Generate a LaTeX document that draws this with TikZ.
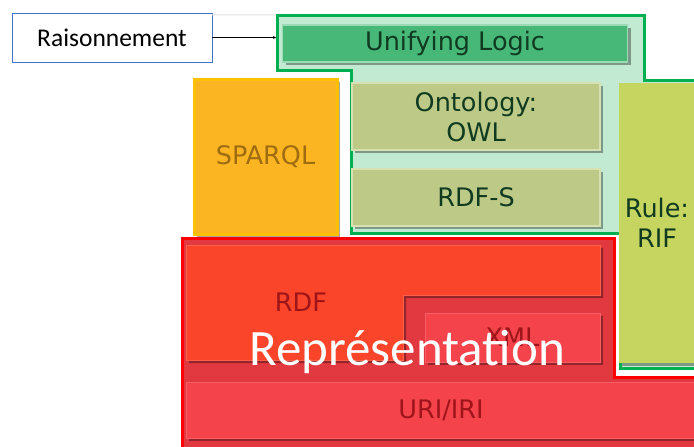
\documentclass[tikz,border=0pt]{standalone}
\usepackage{fontspec}
\setmainfont{Carlito}
\newfontfamily\layerfont{DejaVu Sans}
\usetikzlibrary{positioning, shadows, arrows}

\definecolor{raisblue}{HTML}{4472C4}
\definecolor{greenline}{HTML}{00B050}
\definecolor{mint}{HTML}{C2EAD2}
\definecolor{logicgreen}{HTML}{47B878}
\definecolor{logicedge}{HTML}{9ADBB4}
\definecolor{darkgreen}{HTML}{103B20}
\definecolor{olive}{HTML}{BDC986}
\definecolor{oliveedge}{HTML}{D6E0B0}
\definecolor{rulegreen}{HTML}{C5D55F}
\definecolor{sparqlfill}{HTML}{FBB522}
\definecolor{sparqlline}{HTML}{FFC000}
\definecolor{sparqltext}{HTML}{A06C12}
\definecolor{redline}{HTML}{FF0000}
\definecolor{redfill}{HTML}{E23840}
\definecolor{rdffill}{HTML}{FA452B}
\definecolor{urifill}{HTML}{F4434B}
\definecolor{redtext}{HTML}{9E1418}

\begin{document}
\begin{tikzpicture}[
    x=1pt, y=-1pt,
    layer/.style={rectangle, inner sep=0pt, align=center, font=\layerfont\fontsize{25.5}{30}\selectfont,
        drop shadow={shadow xshift=3pt, shadow yshift=-3pt, opacity=0.35, fill=black}},
    logic/.style={layer, fill=logicgreen, draw=logicedge, line width=1.5pt, text=darkgreen},
    olivebox/.style={layer, fill=olive, draw=oliveedge, line width=1.5pt, text=darkgreen},
    rulebox/.style={layer, fill=rulegreen, text=darkgreen},
    sparqlbox/.style={layer, fill=sparqlfill, draw=sparqlline, line width=3pt, text=sparqltext},
    redbox/.style={layer, fill=urifill, draw=urifill!85!white, line width=1pt, text=redtext},
    arrowline/.style={->, >=stealth, thin, black}
]
    \useasboundingbox (0,0) rectangle (694,447);

    % Reasoning label
    \node[draw=raisblue, rectangle, minimum width=200pt, minimum height=49pt, font=\fontsize{25.5}{30}\selectfont] (raison) at (112,37.5) {Raisonnement};
    \coordinate (logiccorner) at (277,15);
    \draw[black!12, line width=1pt] ([yshift=-2pt]raison.north east) -- (logiccorner);

    % Green (logic) region
    \draw[greenline, line width=3pt, fill=mint] (logiccorner) -- (644,15) -- (644,80) -- (697,80) -- (697,368)
        -- (620,368) -- (620,233) -- (351,233) -- (351,70) -- (277,70) -- cycle;

    \node[logic, minimum width=345pt, minimum height=37pt] (unify) at (455,43.5) {Unifying Logic};
    \node[olivebox, minimum width=248pt, minimum height=67pt] (owl) at (476,116.5) {Ontology:\\OWL};
    \node[olivebox, minimum width=248pt, minimum height=57pt] (rdfs) at (476,197.5) {RDF-S};
    \node[rulebox, minimum width=76pt, minimum height=280pt] (rif) at (657,223) {Rule:\\RIF};

    % Query
    \node[sparqlbox, minimum width=143pt, minimum height=155pt] (sparql) at (265.5,156.5) {SPARQL};

    % Red (representation) region
    \draw[redline, line width=3pt, fill=redfill] (182,238) -- (614,238) -- (614,377) -- (697,377)
        -- (697,450) -- (182,450) -- cycle;

    \draw[draw=rdffill!85!white, line width=1pt, fill=rdffill,
          drop shadow={shadow xshift=3pt, shadow yshift=-3pt, opacity=0.35, fill=black}]
        (186,245) -- (600,245) -- (600,295) -- (403,295) -- (403,360) -- (186,360) -- cycle;
    \node[font=\layerfont\fontsize{25.5}{30}\selectfont, text=redtext] (rdf) at (301,302) {RDF};
    \node[redbox, minimum width=175pt, minimum height=49pt] (xml) at (512.5,337.5) {XML};
    \node[redbox, minimum width=510pt, minimum height=56pt] (uri) at (441,410) {URI/IRI};

    \node[text=white, font=\fontsize{51}{60}\selectfont] (repr) at (407,352) {Représentation};

    % Arrow into the logic layer
    \coordinate (logicin) at (276,37.5);
    \draw[arrowline] (raison.east) -- (logicin);
\end{tikzpicture}
\end{document}
